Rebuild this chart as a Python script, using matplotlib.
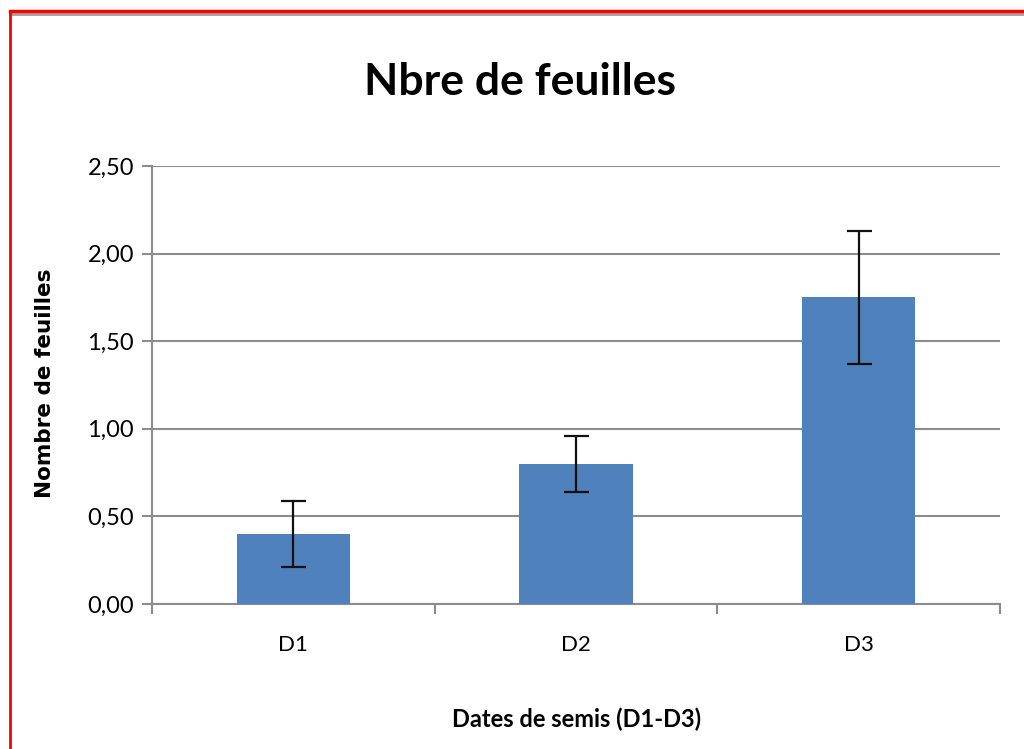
import matplotlib.pyplot as plt
from matplotlib.lines import Line2D

categories = ['D1', 'D2', 'D3']
values = [0.40, 0.80, 1.75]
errors = [0.19, 0.16, 0.38]
yticks = [0.0, 0.5, 1.0, 1.5, 2.0, 2.5]

plt.rcParams['font.family'] = ['Lato', 'DejaVu Sans']

fig = plt.figure(figsize=(10.24, 7.49), dpi=100)
ax = fig.add_axes([0.1484, 0.1936, 0.8282, 0.5848])

x = list(range(len(categories)))
ax.bar(x, values, width=0.4, color='#4f81bd', zorder=3)
ax.errorbar(x, values, yerr=errors, fmt='none', ecolor='#111111',
            elinewidth=1.6, capsize=9, capthick=1.6, zorder=4)

ax.set_xlim(-0.5, 2.5)
ax.set_ylim(0, 2.5)
ax.set_yticks(yticks)
ax.set_yticklabels([f'{v:.2f}'.replace('.', ',') for v in yticks])
ax.yaxis.grid(True, color='#8c8c8c', linewidth=1.5, zorder=0)

ax.set_xticks([-0.5, 0.5, 1.5, 2.5])
ax.set_xticklabels([])
ax.set_xticks(x, minor=True)
ax.set_xticklabels(categories, minor=True)
ax.tick_params(axis='x', which='major', length=7, width=1.5, color='#8c8c8c')
ax.tick_params(axis='x', which='minor', length=0, pad=22, labelsize=16)
ax.tick_params(axis='y', length=7, width=1.5, color='#8c8c8c', labelsize=17, pad=6)

for s in ['top', 'right']:
    ax.spines[s].set_visible(False)
for s in ['left', 'bottom']:
    ax.spines[s].set_color('#8c8c8c')
    ax.spines[s].set_linewidth(1.5)

fig.text(0.508, 0.89, 'Nbre de feuilles', ha='center', va='center',
         fontsize=32, fontweight='bold')
fig.text(0.044, 0.488, 'Nombre de feuilles', ha='center', va='center',
         rotation=90, fontsize=15.5, fontweight='bold', family='DejaVu Sans')
fig.text(0.563, 0.04, 'Dates de semis (D1-D3)', ha='center', va='center',
         fontsize=17, fontweight='bold')

# screenshot border
fig.add_artist(Line2D([0.010, 1.0], [1 - 14 / 749, 1 - 14 / 749], color='#a0a0a0', linewidth=2))
fig.add_artist(Line2D([0.010, 1.0], [1 - 11 / 749, 1 - 11 / 749], color='red', linewidth=2.5))
fig.add_artist(Line2D([10 / 1024, 10 / 1024], [0, 1 - 11 / 749], color='red', linewidth=2))

fig.savefig('out.png', dpi=100)
